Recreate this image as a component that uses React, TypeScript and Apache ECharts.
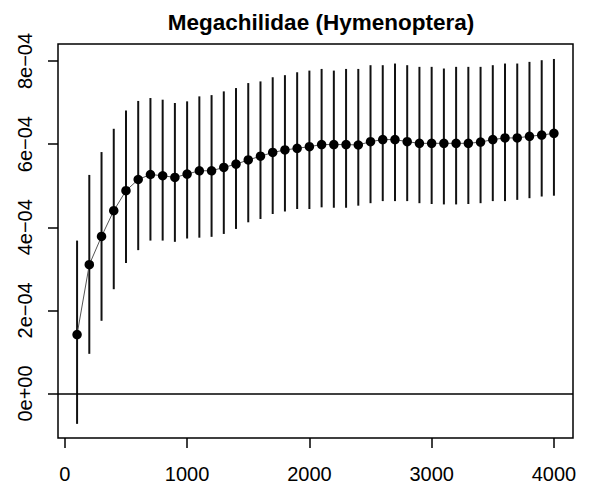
import React, { useEffect, useRef } from "react";
import * as echarts from "echarts";

const sampleSizes = [
  100, 200, 300, 400, 500, 600, 700, 800, 900, 1000,
  1100, 1200, 1300, 1400, 1500, 1600, 1700, 1800, 1900, 2000,
  2100, 2200, 2300, 2400, 2500, 2600, 2700, 2800, 2900, 3000,
  3100, 3200, 3300, 3400, 3500, 3600, 3700, 3800, 3900, 4000,
];

const meanValues = [
  1.42e-4, 3.10e-4, 3.78e-4, 4.40e-4, 4.88e-4, 5.15e-4, 5.27e-4, 5.24e-4, 5.20e-4, 5.28e-4,
  5.36e-4, 5.36e-4, 5.44e-4, 5.52e-4, 5.62e-4, 5.71e-4, 5.80e-4, 5.86e-4, 5.90e-4, 5.94e-4,
  5.99e-4, 5.99e-4, 5.99e-4, 5.98e-4, 6.06e-4, 6.11e-4, 6.11e-4, 6.06e-4, 6.02e-4, 6.02e-4,
  6.02e-4, 6.02e-4, 6.02e-4, 6.05e-4, 6.11e-4, 6.15e-4, 6.15e-4, 6.19e-4, 6.22e-4, 6.26e-4,
];

const upperValues = [
  3.68e-4, 5.26e-4, 5.81e-4, 6.37e-4, 6.81e-4, 7.04e-4, 7.11e-4, 7.07e-4, 6.99e-4, 7.03e-4,
  7.15e-4, 7.18e-4, 7.27e-4, 7.35e-4, 7.47e-4, 7.51e-4, 7.61e-4, 7.66e-4, 7.73e-4, 7.77e-4,
  7.81e-4, 7.77e-4, 7.81e-4, 7.81e-4, 7.90e-4, 7.90e-4, 7.94e-4, 7.90e-4, 7.86e-4, 7.86e-4,
  7.82e-4, 7.86e-4, 7.86e-4, 7.86e-4, 7.90e-4, 7.94e-4, 7.94e-4, 7.98e-4, 8.02e-4, 8.05e-4,
];

const lowerValues = [
  -0.73e-4, 0.955e-4, 1.75e-4, 2.51e-4, 3.14e-4, 3.45e-4, 3.68e-4, 3.68e-4, 3.65e-4, 3.73e-4,
  3.75e-4, 3.77e-4, 3.84e-4, 3.96e-4, 4.12e-4, 4.20e-4, 4.32e-4, 4.38e-4, 4.44e-4, 4.44e-4,
  4.48e-4, 4.47e-4, 4.47e-4, 4.52e-4, 4.58e-4, 4.63e-4, 4.63e-4, 4.63e-4, 4.58e-4, 4.56e-4,
  4.55e-4, 4.55e-4, 4.56e-4, 4.58e-4, 4.63e-4, 4.63e-4, 4.66e-4, 4.70e-4, 4.74e-4, 4.76e-4,
];

const xTickValues = [0, 1000, 2000, 3000, 4000];
const yTickValues = [0, 2e-4, 4e-4, 6e-4, 8e-4];
const yTickLabels = ["0e+00", "2e\u221204", "4e\u221204", "6e\u221204", "8e\u221204"];

const titleText = "Megachilidae (Hymenoptera)";

export default function App() {
  const ref = useRef<HTMLDivElement>(null);

  useEffect(() => {
    if (!ref.current) return;
    const chart = echarts.init(ref.current, null, { renderer: "svg" });
    const font = "Liberation Sans, Arial, Helvetica, sans-serif";

    const errorData = sampleSizes.map((x, i) => [x, lowerValues[i], upperValues[i]]);
    const lineData = sampleSizes.map((x, i) => [x, meanValues[i]]);

    chart.setOption({
      animation: false,
      backgroundColor: "#ffffff",
      title: {
        text: titleText,
        left: 316,
        top: 6,
        textAlign: "center",
        textStyle: {
          fontFamily: font,
          fontWeight: "bold",
          fontSize: 22.5,
          color: "#000",
        },
      },
      grid: {
        left: 58,
        right: 16,
        top: 44,
        bottom: 43,
        show: true,
        borderColor: "#000",
        borderWidth: 1.5,
        backgroundColor: "transparent",
      },
      xAxis: {
        type: "value",
        min: -56,
        max: 4156,
        axisLine: { show: false, onZero: false },
        splitLine: { show: false },
        axisTick: {
          show: true,
          inside: false,
          length: 10,
          customValues: xTickValues,
          lineStyle: { color: "#000", width: 1.5 },
        },
        axisLabel: {
          customValues: xTickValues,
          margin: 26,
          fontFamily: font,
          fontSize: 20,
          color: "#000",
          formatter: (v: number) => String(v),
        },
      },
      yAxis: {
        type: "value",
        min: -1.07e-4,
        max: 8.41e-4,
        axisLine: { show: false, onZero: false },
        splitLine: { show: false },
        axisTick: {
          show: true,
          inside: false,
          length: 10,
          customValues: yTickValues,
          lineStyle: { color: "#000", width: 1.5 },
        },
        axisLabel: {
          customValues: yTickValues,
          rotate: 90,
          margin: 23,
          fontFamily: font,
          fontSize: 20,
          color: "#000",
          formatter: (v: number) => {
            let best = 0;
            for (let i = 0; i < yTickValues.length; i++) {
              if (Math.abs(yTickValues[i] - v) < Math.abs(yTickValues[best] - v)) best = i;
            }
            return yTickLabels[best];
          },
        },
      },
      series: [
        {
          type: "custom",
          z: 2,
          data: errorData,
          renderItem: (_params: any, api: any) => {
            const x = api.value(0);
            const lo = api.coord([x, api.value(1)]);
            const hi = api.coord([x, api.value(2)]);
            return {
              type: "line",
              shape: { x1: lo[0], y1: lo[1], x2: hi[0], y2: hi[1] },
              style: { stroke: "#111", lineWidth: 2 },
            };
          },
        },
        {
          type: "line",
          z: 3,
          data: lineData,
          symbol: "circle",
          symbolSize: 9.5,
          showSymbol: true,
          itemStyle: { color: "#000" },
          lineStyle: { color: "#555", width: 1 },
          markLine: {
            silent: true,
            symbol: ["none", "none"],
            label: { show: false },
            lineStyle: { color: "#000", width: 1.5, type: "solid" },
            data: [{ yAxis: 0 }],
          },
        },
      ],
    });

    return () => {
      chart.dispose();
    };
  }, []);

  return (
    <div
      ref={ref}
      style={{ position: "absolute", left: 0, top: 0, width: 589, height: 484 }}
    />
  );
}
